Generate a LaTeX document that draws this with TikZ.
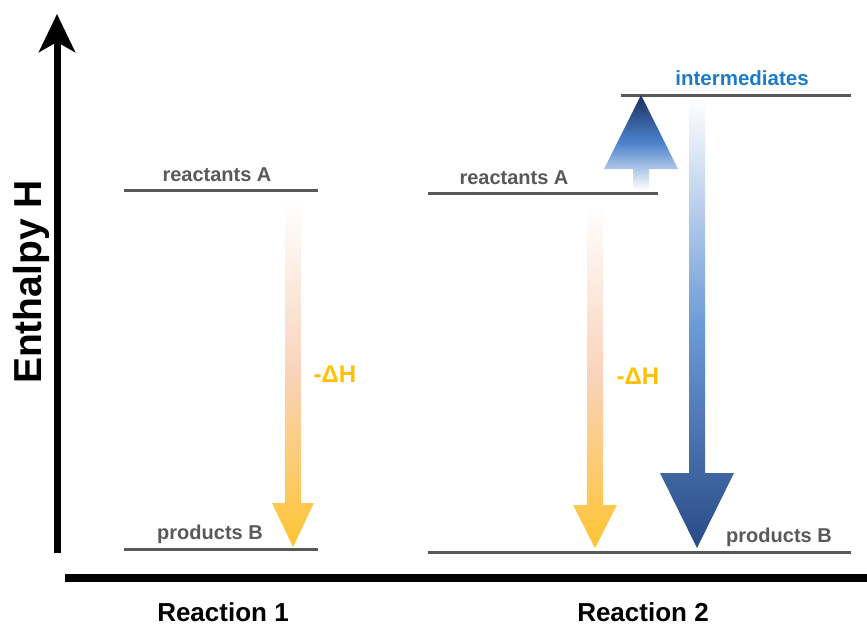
\documentclass[tikz,border=0pt]{standalone}
\usepackage{fontspec}
\setmainfont{Liberation Sans}
\usepackage{tikz}
\usetikzlibrary{arrows.meta}

\definecolor{levelgray}{HTML}{595959}
\definecolor{dhgold}{HTML}{FFC000}
\definecolor{peach}{HTML}{F9D3BA}
\definecolor{goldend}{HTML}{FFC431}
\definecolor{interblue}{HTML}{1C7BC9}
\definecolor{navy}{HTML}{1B3060}
\definecolor{midblue}{HTML}{4C82CB}
\definecolor{lightblue}{HTML}{6E9BD8}
\definecolor{deepblue}{HTML}{284B86}

\tikzset{
  level/.style={draw=levelgray, line width=3pt},
  levellabel/.style={anchor=base, text=levelgray, font=\fontsize{20}{20}\selectfont\bfseries, inner sep=0pt},
  dhlabel/.style={anchor=base, text=dhgold, font=\fontsize{24}{24}\selectfont\bfseries, inner sep=0pt},
  axislabel/.style={anchor=base, font=\fontsize{26}{26}\selectfont\bfseries, inner sep=0pt},
}

\begin{document}
\begin{tikzpicture}[x=1pt,y=-1pt]
\useasboundingbox (0,0) rectangle (867,626);
% axes
\coordinate (ybot) at (57,553);
\coordinate (ytop) at (57,14);
\draw[line width=7pt, -{Stealth[length=38pt,width=36pt,inset=10pt]}] (ybot) -- (ytop);
\coordinate (xleft) at (65,578);
\coordinate (xright) at (867,578);
\draw[line width=8pt] (xleft) -- (xright);
\node[rotate=90, anchor=base, font=\fontsize{39}{39}\selectfont\bfseries, inner sep=0pt] (enth) at (41,282) {Enthalpy H};
% Reaction 1
\draw[level] (124,190) -- (318,190);
\draw[level] (124,549) -- (318,549);
\node[levellabel] (reacA1) at (217,181) {reactants A};
\node[levellabel] (prodB1) at (210,539) {products B};
\shade[top color=white, bottom color=goldend, middle color=peach]
  (285,202) -- (301,202) -- (301,503) -- (314,503) -- (293,547) -- (272,503) -- (285,503) -- cycle;
\node[dhlabel] (dh1) at (335,382) {-ΔH};
% Reaction 2
\draw[level] (428,193) -- (658,193);
\draw[level] (621,95) -- (851,95);
\draw[level] (428,552) -- (851,552);
\node[levellabel] (reacA2) at (514,184) {reactants A};
\node[levellabel, text=interblue, font=\fontsize{20.5}{20.5}\selectfont\bfseries] (inter) at (742,85) {intermediates};
\node[levellabel] (prodB2) at (779,542) {products B};
\shade[top color=white, bottom color=goldend, middle color=peach]
  (587,205) -- (603,205) -- (603,505) -- (617,505) -- (595,548) -- (573,505) -- (587,505) -- cycle;
\node[dhlabel] (dh2) at (638,384) {-ΔH};
\shade[top color=navy, bottom color=white, middle color=midblue]
  (633,190) -- (633,169) -- (604,169) -- (641,95) -- (678,169) -- (649,169) -- (649,190) -- cycle;
\shade[top color=white, bottom color=deepblue, middle color=lightblue]
  (689,98) -- (705,98) -- (705,473) -- (734,473) -- (697,548) -- (660,473) -- (689,473) -- cycle;
% labels
\node[axislabel] (r1) at (223,621) {Reaction 1};
\node[axislabel] (r2) at (643,621) {Reaction 2};
\end{tikzpicture}
\end{document}
